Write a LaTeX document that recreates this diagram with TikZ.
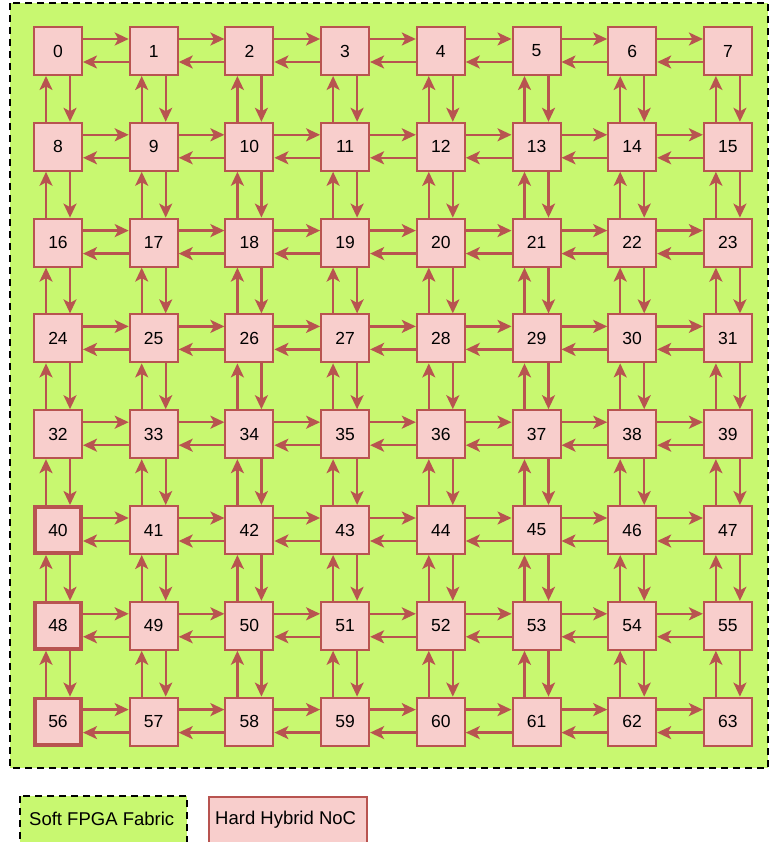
\documentclass[tikz,border=0pt]{standalone}
\usepackage{fontspec}
\setmainfont{Liberation Sans}
\usetikzlibrary{arrows.meta}
\definecolor{fabric}{RGB}{200,248,112}
\definecolor{nocfill}{HTML}{F8CECC}
\definecolor{nocdraw}{HTML}{B85450}
\tikzset{
  router/.style={draw=nocdraw, fill=nocfill, line width=2pt, minimum width=48pt, minimum height=48pt, inner sep=0pt, font=\fontsize{17.5}{20}\selectfont},
  edgerouter/.style={router, line width=3.6pt, minimum width=46.4pt, minimum height=46.4pt},
  link/.style={draw=nocdraw, line width=2.3pt, -{Stealth[length=14pt,width=13pt,inset=3.5pt]}},
  fabricbox/.style={draw=black, fill=fabric, line width=2.5pt, dash pattern=on 7pt off 5pt},
  legendtext/.style={font=\fontsize{18.5}{22}\selectfont, inner sep=0pt}
}
\begin{document}
\begin{tikzpicture}[x=1pt,y=-1pt]
\useasboundingbox (0,0) rectangle (770,842);
\fill[white] (0,0) rectangle (770,842);
\path[fabricbox] (10,3) rectangle (768,768);
% routers
\foreach \r in {0,...,7}{
  \foreach \c in {0,...,7}{
    \pgfmathtruncatemacro{\id}{8*\r+\c}
    \pgfmathsetmacro{\px}{58+95.7*\c}
    \pgfmathsetmacro{\py}{51+95.8*\r}
    \ifnum\c=0 \ifnum\r>4
      \node[edgerouter] (n\id) at (\px,\py) {\id};
    \else
      \node[router] (n\id) at (\px,\py) {\id};
    \fi
    \else
      \node[router] (n\id) at (\px,\py) {\id};
    \fi
  }
}
% horizontal links
\foreach \r in {0,...,7}{
  \foreach \c in {0,...,6}{
    \pgfmathtruncatemacro{\a}{8*\r+\c}
    \pgfmathtruncatemacro{\b}{8*\r+\c+1}
    \draw[link] ([yshift=12pt]n\a.east) -- ([yshift=12pt]n\b.west);
    \draw[link] ([yshift=-11pt]n\b.west) -- ([yshift=-11pt]n\a.east);
  }
}
% vertical links
\foreach \r in {0,...,6}{
  \foreach \c in {0,...,7}{
    \pgfmathtruncatemacro{\a}{8*\r+\c}
    \pgfmathtruncatemacro{\b}{8*\r+\c+8}
    \draw[link] ([xshift=12pt]n\a.south) -- ([xshift=12pt]n\b.north);
    \draw[link] ([xshift=-12pt]n\b.north) -- ([xshift=-12pt]n\a.south);
  }
}
% legend
\path[fabricbox] (20,796) rectangle (187,850);
\node[legendtext, anchor=west] (lsoft) at (29,819) {Soft FPGA Fabric};
\path[draw=nocdraw, fill=nocfill, line width=1.2pt] (209,797) rectangle (367,850);
\node[legendtext, anchor=west] (lhard) at (215,820) {Hard Hybrid NoC};
\end{tikzpicture}
\end{document}
